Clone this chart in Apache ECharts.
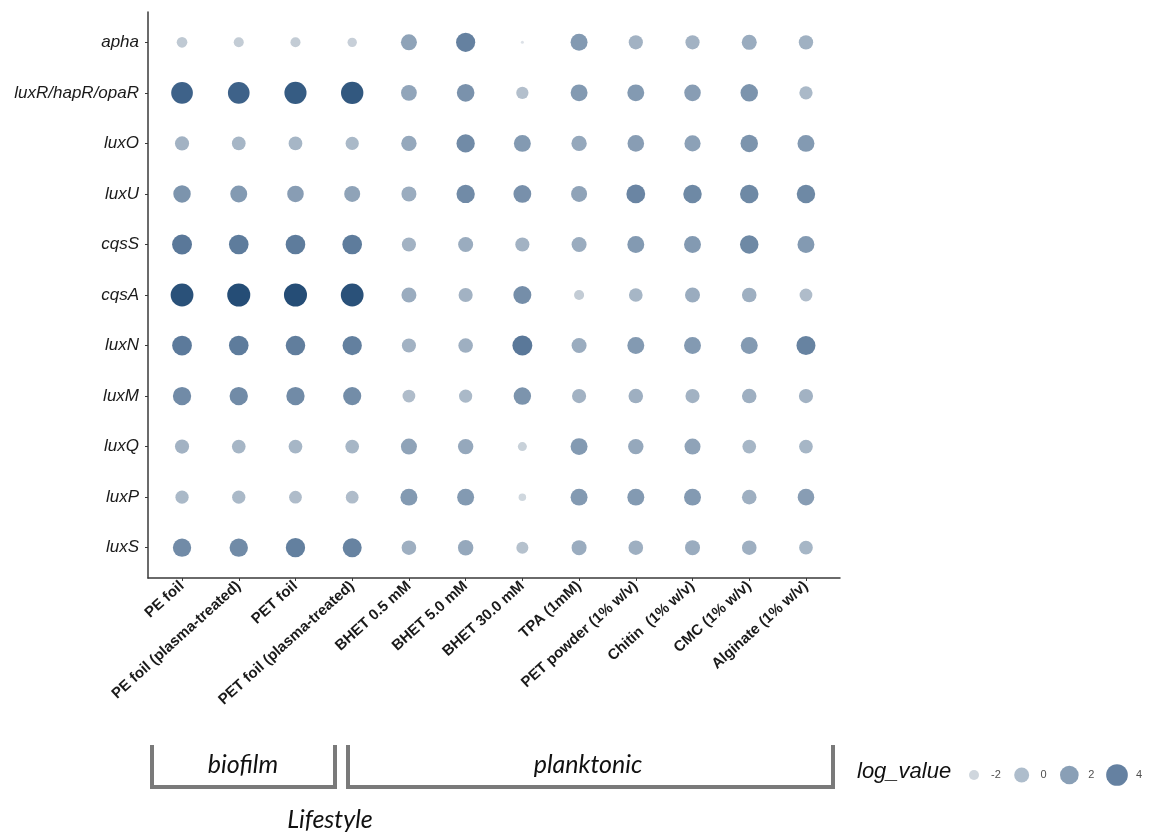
<!DOCTYPE html>
<html>
<head>
<meta charset="utf-8">
<title>Quorum-sensing gene expression by lifestyle</title>
<script src="https://cdn.jsdelivr.net/npm/echarts@6/dist/echarts.min.js"></script>
<style>
  html, body { margin: 0; padding: 0; background: #ffffff; }
  #chart { width: 1149px; height: 835px; }
</style>
</head>
<body>
<div id="chart"></div>
<script>
// Genes (rows, top to bottom) and growth conditions (columns, left to right)
const genes = ['apha', 'luxR/hapR/opaR', 'luxO', 'luxU', 'cqsS', 'cqsA', 'luxN', 'luxM', 'luxQ', 'luxP', 'luxS'];
const conditions = [
  'PE foil', 'PE foil (plasma-treated)', 'PET foil', 'PET foil (plasma-treated)',
  'BHET 0.5 mM', 'BHET 5.0 mM', 'BHET 30.0 mM', 'TPA (1mM)',
  'PET powder (1% w/v)', 'Chitin  (1% w/v)', 'CMC (1% w/v)', 'Alginate (1% w/v)'
];

// log_value per gene, one entry per condition
const apha     = [-1.8, -2.0, -2.0, -2.2,  0.5,  2.3, -3.4,  1.0, -0.4, -0.4,  0.0, -0.3];
const luxR     = [ 4.0,  4.0,  4.3,  4.5,  0.4,  1.4, -1.2,  1.0,  1.0,  0.8,  1.3, -0.8];
const luxO     = [-0.4, -0.6, -0.6, -0.8,  0.2,  1.8,  1.0,  0.2,  0.8,  0.6,  1.3,  1.0];
const luxU     = [ 1.3,  1.0,  0.8,  0.5,  0.0,  1.8,  1.5,  0.5,  2.1,  1.9,  1.9,  1.9];
const cqsS     = [ 2.8,  2.6,  2.6,  2.6, -0.4,  0.0, -0.4,  0.0,  1.0,  1.0,  1.9,  1.0];
const cqsA     = [ 4.8,  5.0,  5.0,  4.8,  0.0, -0.4,  1.6, -2.0, -0.6,  0.0, -0.2, -1.0];
const luxN     = [ 2.7,  2.6,  2.5,  2.4, -0.4, -0.2,  2.8,  0.0,  1.0,  1.0,  1.0,  2.2];
const luxM     = [ 1.8,  1.8,  1.8,  1.7, -1.0, -0.8,  1.3, -0.4, -0.2, -0.4, -0.2, -0.4];
const luxQ     = [-0.4, -0.6, -0.6, -0.6,  0.5,  0.2, -2.3,  1.0,  0.2,  0.5, -0.6, -0.6];
const luxP     = [-0.8, -0.8, -1.0, -1.0,  1.0,  1.0, -2.7,  1.0,  1.0,  1.0, -0.2,  0.8];
const luxS     = [ 1.8,  1.8,  2.4,  2.2, -0.2,  0.2, -1.3,  0.0, -0.2,  0.0, -0.2, -0.6];
const geneValues = [apha, luxR, luxO, luxU, cqsS, cqsA, luxN, luxM, luxQ, luxP, luxS];

// Size legend breaks
const legendBreaks = [-2, 0, 2, 4];

// Area-style size scale: diameter grows with sqrt of the value above the floor
const SIZE_FLOOR = -3.5;
function dotSize(v) {
  return 0.6 + 7.7 * Math.sqrt(Math.max(v - SIZE_FLOOR, 0));
}

const points = [];
geneValues.forEach(function (row, gi) {
  row.forEach(function (v, ci) { points.push([ci, gi, v]); });
});
const legendPoints = legendBreaks.map(function (b) { return [b, 0, b]; });

const tickIdxX = conditions.map(function (_, i) { return i; });
const tickIdxY = genes.map(function (_, i) { return i; });

const axisColor = '#3a3a3a';
const chart = echarts.init(document.getElementById('chart'), null, { renderer: 'canvas' });

chart.setOption({
  backgroundColor: '#ffffff',
  animation: false,
  grid: [
    { left: 148, top: 12, right: 309, bottom: 257 },
    { left: 974, right: 32, top: 765, height: 20 }
  ],
  xAxis: [
    {
      type: 'value', gridIndex: 0, min: -0.6, max: 11.6,
      splitLine: { show: false },
      axisLine: { show: true, onZero: false, lineStyle: { color: axisColor, width: 1.5 } },
      axisTick: { show: true, length: 3, customValues: tickIdxX, lineStyle: { color: axisColor } },
      axisLabel: {
        customValues: tickIdxX, rotate: 42, margin: 6,
        fontFamily: 'Liberation Sans, Arial, sans-serif', fontWeight: 'bold', fontSize: 15, color: '#1a1a1a',
        formatter: function (v) { return conditions[Math.round(v)]; }
      }
    },
    { type: 'value', gridIndex: 1, min: -2, max: 4, show: false }
  ],
  yAxis: [
    {
      type: 'value', gridIndex: 0, min: -0.6, max: 10.6, inverse: true,
      splitLine: { show: false },
      axisLine: { show: true, onZero: false, lineStyle: { color: axisColor, width: 1.5 } },
      axisTick: { show: true, length: 3, customValues: tickIdxY, lineStyle: { color: axisColor } },
      axisLabel: {
        customValues: tickIdxY, margin: 9,
        fontFamily: 'Liberation Sans, Arial, sans-serif', fontStyle: 'italic', fontSize: 17, color: '#1a1a1a',
        formatter: function (v) { return genes[Math.round(v)]; }
      }
    },
    { type: 'value', gridIndex: 1, min: -1, max: 1, show: false }
  ],
  visualMap: {
    type: 'continuous', show: false, dimension: 2, seriesIndex: [0, 1],
    min: -4, max: 6,
    inRange: { color: ['#e6eaee', '#c3ccd5', '#9aacbf', '#6c87a4', '#3e6289', '#0c3862'] }
  },
  series: [
    {
      type: 'scatter', xAxisIndex: 0, yAxisIndex: 0,
      data: points,
      symbol: 'circle',
      symbolSize: function (d) { return dotSize(d[2]); },
      itemStyle: { opacity: 1 }
    },
    {
      type: 'scatter', xAxisIndex: 1, yAxisIndex: 1,
      data: legendPoints,
      symbol: 'circle',
      symbolSize: function (d) { return dotSize(d[2]); },
      label: {
        show: true, position: 'inside', offset: [22, 0], align: 'center',
        fontFamily: 'Liberation Sans, Arial, sans-serif', fontSize: 11, color: '#222',
        formatter: function (p) { return String(p.value[2]); }
      }
    }
  ],
  graphic: [
    { type: 'text', left: 857, top: 761,
      style: { text: 'log_value', font: 'italic 22px "Liberation Sans", Arial, sans-serif', fill: '#111' } },
    { type: 'polyline', shape: { points: [[152, 745], [152, 787], [335, 787], [335, 745]] },
      style: { stroke: '#7a7a7a', lineWidth: 4, fill: null } },
    { type: 'polyline', shape: { points: [[348, 745], [348, 787], [833, 787], [833, 745]] },
      style: { stroke: '#7a7a7a', lineWidth: 4, fill: null } },
    { type: 'text', x: 243, y: 765,
      style: { text: 'biofilm', font: 'italic 25px Lato, "Open Sans", sans-serif', fill: '#111', align: 'center', verticalAlign: 'middle' } },
    { type: 'text', x: 588, y: 765,
      style: { text: 'planktonic', font: 'italic 25px Lato, "Open Sans", sans-serif', fill: '#111', align: 'center', verticalAlign: 'middle' } },
    { type: 'text', x: 330, y: 820,
      style: { text: 'Lifestyle', font: 'italic 25px Lato, "Open Sans", sans-serif', fill: '#111', align: 'center', verticalAlign: 'middle' } }
  ]
});
</script>
</body>
</html>
